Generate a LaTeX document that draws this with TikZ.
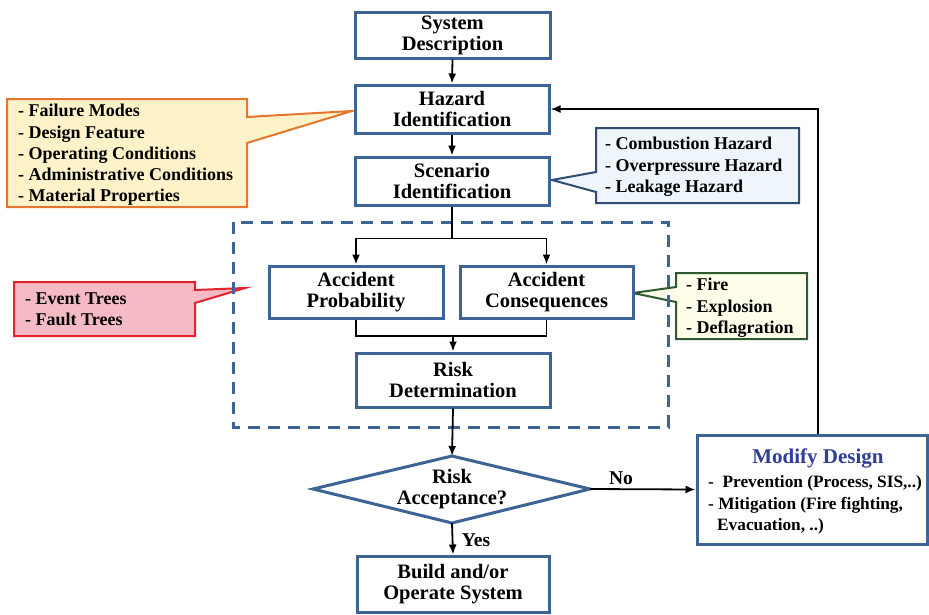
\documentclass[tikz,border=0pt]{standalone}
\usepackage{fontspec}
\setmainfont{Liberation Serif}
\usetikzlibrary{arrows.meta,calc}
\definecolor{boxblue}{HTML}{3C6595}
\definecolor{ylwfill}{HTML}{FEF3C8}
\definecolor{ylwline}{HTML}{E4762F}
\definecolor{bluefill}{HTML}{EEF5FB}
\definecolor{blueline}{HTML}{2F4C73}
\definecolor{redfill}{HTML}{F6BAC4}
\definecolor{redline}{HTML}{E3232E}
\definecolor{grnfill}{HTML}{FDFDE9}
\definecolor{grnline}{HTML}{2E5A2E}
\definecolor{titleblue}{HTML}{2F3E96}
\begin{document}
\begin{tikzpicture}[x=1pt,y=-1pt,
  mainbox/.style={draw=boxblue, line width=3pt, fill=white, align=center, inner sep=0pt,
    font=\bfseries\fontsize{20.5}{21}\selectfont},
  sidetext/.style={align=left, inner sep=0pt, anchor=west, font=\bfseries\fontsize{18}{21.3}\selectfont},
  link/.style={line width=1.8pt},
  conn/.style={line width=1.8pt, -{Latex[length=10pt,width=8pt]}},
  callout/.style={line width=2pt, line join=miter},
  lbl/.style={font=\bfseries\fontsize{19.5}{21}\selectfont, inner sep=0pt}
]
\useasboundingbox (0,0) rectangle (929,614);
\fill[white] (0,0) rectangle (929,614);

% callouts
\draw[callout, draw=ylwline, fill=ylwfill] (7,99) -- (247,99) -- (247,117) -- (352,111) -- (247,143) -- (247,207) -- (7,207) -- cycle;
\node[sidetext] (ytxt) at (18,155) {- Failure Modes\\- Design Feature\\- Operating Conditions\\- Administrative Conditions\\- Material Properties};

\draw[callout, draw=blueline, fill=bluefill] (596,128) -- (799,128) -- (799,203) -- (596,203) -- (596,192) -- (552,180) -- (596,172) -- cycle;
\node[sidetext] (btxt) at (605,167) {- Combustion Hazard\\- Overpressure Hazard\\- Leakage Hazard};

\draw[callout, draw=redline, fill=redfill] (14,282) -- (195,282) -- (195,290) -- (245,288) -- (195,303) -- (195,336) -- (14,336) -- cycle;
\node[sidetext] (rtxt) at (25,309.5) {- Event Trees\\- Fault Trees};

\draw[callout, draw=grnline, fill=grnfill] (676,273) -- (807,273) -- (807,339) -- (676,339) -- (676,302) -- (633,293) -- (676,287) -- cycle;
\node[sidetext] (gtxt) at (686,308) {- Fire\\- Explosion\\- Deflagration};

% dashed group
\draw[draw=boxblue, line width=3pt, dash pattern=on 12pt off 8pt] (233,222) rectangle (668,427);

% main boxes
\node[mainbox, minimum width=195pt, minimum height=46pt] (sys) at (452.5,35) {System\\Description};
\node[mainbox, minimum width=194pt, minimum height=48pt] (haz) at (452,109) {Hazard\\Identification};
\node[mainbox, minimum width=194pt, minimum height=48pt] (scen) at (452,181) {Scenario\\Identification};
\node[mainbox, minimum width=174pt, minimum height=52pt] (prob) at (356,292) {Accident\\Probability};
\node[mainbox, minimum width=173pt, minimum height=52pt] (cons) at (546.5,292) {Accident\\Consequences};
\node[mainbox, minimum width=194pt, minimum height=54pt] (risk) at (453,380) {Risk\\Determination};
\node[mainbox, minimum width=192pt, minimum height=56pt] (build) at (453,584) {Build and/or\\Operate System};

% decision diamond
\coordinate (dtop) at (452,456);
\coordinate (dright) at (590,489);
\coordinate (dbot) at (452,523);
\coordinate (dleft) at (313,489);
\draw[draw=boxblue, line width=3pt, fill=white, line join=miter] (dleft) -- (dtop) -- (dright) -- (dbot) -- cycle;
\node[mainbox, draw=none, fill=none] (dec) at (452,489) {Risk\\Acceptance?};

% modify design
\node[draw=boxblue, line width=3pt, fill=white, minimum width=230pt, minimum height=109pt, inner sep=0pt] (mod) at (812,489.5) {};
\node[lbl, text=titleblue, font=\bfseries\fontsize{21}{22}\selectfont] (modt) at (818,458) {Modify Design};
\node[sidetext, font=\bfseries\fontsize{17.3}{21.3}\selectfont] (modtxt) at (708,505) {-\ \ Prevention (Process, SIS,..)\\- Mitigation (Fire fighting,\\\hspace*{9pt}Evacuation, ..)};

% connectors
\draw[conn] (sys.south) -- (haz.north);
\draw[conn] (haz.south) -- (scen.north);
\draw[link] (scen.south) -- ++(0,32) coordinate (split);
\draw[conn] (split) -| (prob.north);
\draw[conn] (split) -| (cons.north);
\coordinate (join) at (453,336);
\draw[link] (prob.south) |- (join);
\draw[link] (cons.south) |- (join);
\draw[conn] (join) -- (risk.north);
\draw[conn] (risk.south) -- (dtop);
\draw[conn] (dright) -- (mod.west);
\node[lbl] (no) at (621,478) {No};
\draw[conn] (dbot) -- (build.north);
\node[lbl] (yes) at (476,540) {Yes};
\draw[conn] ($(mod.north)+(6,0)$) |- (haz.east);
\end{tikzpicture}
\end{document}
